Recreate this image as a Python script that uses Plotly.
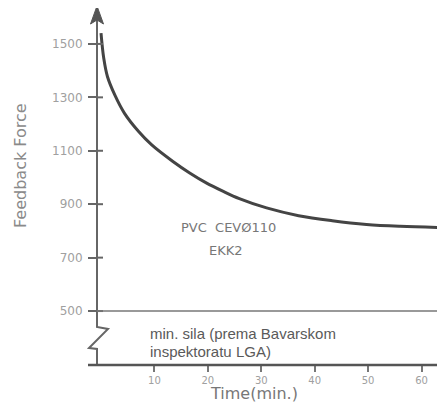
import plotly.graph_objects as go

# Data
time_min = [0, 0.5, 1.2, 2.6, 4.4, 7, 9.5, 13.4, 16.6, 19.7, 22.8, 25.9, 31, 37, 43.3, 49.7, 56, 64.3]
force = [1540, 1448, 1378, 1308, 1240, 1173, 1122, 1061, 1017, 980, 949, 921, 886, 857, 838, 824, 817, 812]
y_ticks = [500, 700, 900, 1100, 1300, 1500]
x_ticks = [10, 20, 30, 40, 50, 60]
min_force = 500

OFF = 8  # page body margin
W, H = 445 - OFF, 404 - OFF
# desired page pixel positions of the plot area
PL, PT, PB = 97, 10, 365
L, T = PL - OFF, PT - OFF
B = H - (PB - OFF)
PW, PH = W - L, H - T - B


def px(p):
    return (p - PL) / PW


def py(p):
    return (PB - p) / PH


fig = go.Figure()
fig.add_trace(go.Scatter(x=time_min, y=force, mode="lines",
                         line=dict(color="#444444", width=3, shape="spline", smoothing=1.0),
                         hoverinfo="skip", showlegend=False))

axis_col = "#666666"
shapes = []
# y axis line (broken)
shapes.append(dict(type="path", xref="paper", yref="paper",
                   path=f"M {px(97)} {py(8)} L {px(97)} {py(327)} L {px(108)} {py(329)} "
                        f"L {px(89)} {py(348)} L {px(97)} {py(349)} L {px(97)} {py(365)}",
                   line=dict(color=axis_col, width=2)))
# arrow head
shapes.append(dict(type="path", xref="paper", yref="paper",
                   path=f"M {px(97)} {py(6)} L {px(103.5)} {py(24)} L {px(97)} {py(20)} L {px(90.5)} {py(24)} Z",
                   fillcolor="#555555", line=dict(color="#555555", width=1)))
# inner part of y ticks
for v in y_ticks:
    shapes.append(dict(type="line", xref="paper", yref="y", x0=px(97), x1=px(103), y0=v, y1=v,
                       line=dict(color=axis_col, width=2)))
# minimum force line
shapes.append(dict(type="line", xref="paper", yref="y", x0=px(97), x1=1, y0=min_force, y1=min_force,
                   line=dict(color="#777777", width=1.5)))
# x axis line
shapes.append(dict(type="line", xref="paper", yref="paper", x0=px(88), x1=1, y0=0, y1=0,
                   line=dict(color="#555555", width=2.5)))

tick_font = dict(family="DejaVu Sans", color="#a0a0a0")
fig.update_layout(
    width=W, height=H, margin=dict(l=L, r=0, t=T, b=B, autoexpand=False),
    plot_bgcolor="white", paper_bgcolor="white",
    shapes=shapes,
    xaxis=dict(range=[-0.75, 64.4], tickvals=x_ticks, ticks="outside", ticklen=6, tickwidth=1.5,
               tickcolor="#777777", showgrid=False, zeroline=False, showline=False,
               tickfont=dict(size=10, **tick_font)),
    yaxis=dict(range=[298, 1627], tickvals=y_ticks, ticks="outside", ticklen=8, tickwidth=2,
               tickcolor=axis_col, showgrid=False, zeroline=False, showline=False,
               ticklabelstandoff=3,
               tickfont=dict(size=12, **tick_font)),
    font=dict(family="DejaVu Sans, sans-serif"),
)

light = "DejaVu Sans"
ann = [
    dict(text="Feedback Force", x=px(20), y=py(166), textangle=-90,
         font=dict(family=light, size=16, color="#8a8a8a")),
    dict(text="Time(min.)", x=px(254), y=py(394), font=dict(family=light, size=16, color="#777777")),
    dict(text="PVC  CEVØ110", x=px(228), y=py(227), font=dict(family=light, size=13, color="#777777")),
    dict(text="EKK2", x=px(226), y=py(250), font=dict(family=light, size=13, color="#777777")),
    dict(text="min. sila (prema Bavarskom", x=px(148), y=py(333), xanchor="left",
         font=dict(family="Liberation Sans", size=15, color="#5a5a5a")),
    dict(text="inspektoratu LGA)", x=px(148), y=py(351), xanchor="left",
         font=dict(family="Liberation Sans", size=15, color="#5a5a5a")),
]
for a in ann:
    a.setdefault("xanchor", "center")
    fig.add_annotation(xref="paper", yref="paper", showarrow=False, yanchor="middle", **a)

fig.write_html("out.html")
